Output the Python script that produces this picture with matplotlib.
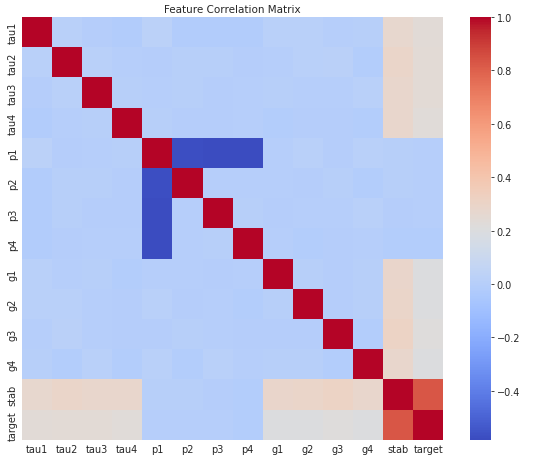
import numpy as np
import matplotlib
matplotlib.use("Agg")
import matplotlib.pyplot as plt
import seaborn as sns

sns.set_theme(style="white")
plt.rcParams["font.family"] = ["DejaVu Sans"]

features = ["tau1", "tau2", "tau3", "tau4", "p1", "p2", "p3", "p4",
            "g1", "g2", "g3", "g4", "stab", "target"]

# correlation rows
tau1 = [1.000, 0.016, -0.006, -0.017, 0.027, -0.015, -0.016, -0.016, 0.011, 0.015, -0.001, 0.005, 0.276, 0.235]
tau2 = [0.016, 1.000, 0.014, -0.002, -0.005, 0.007, 0.008, -0.006, -0.002, 0.015, 0.017, -0.012, 0.291, 0.243]
tau3 = [-0.006, 0.014, 1.000, 0.007, 0.003, 0.004, -0.006, -0.000, 0.010, -0.001, -0.002, 0.015, 0.281, 0.242]
tau4 = [-0.017, -0.002, 0.007, 1.000, 0.009, -0.004, -0.004, -0.002, -0.013, -0.003, -0.007, -0.013, 0.279, 0.230]
p1 = [0.027, -0.005, 0.003, 0.009, 1.000, -0.573, -0.584, -0.579, 0.000, 0.016, -0.003, 0.011, 0.010, -0.001]
p2 = [-0.015, 0.007, 0.004, -0.004, -0.573, 1.000, 0.003, 0.002, 0.003, -0.004, 0.008, -0.009, 0.006, 0.002]
p3 = [-0.016, 0.008, -0.006, -0.004, -0.584, 0.003, 1.000, 0.006, -0.004, -0.002, 0.000, 0.013, -0.003, 0.001]
p4 = [-0.016, -0.006, -0.000, -0.002, -0.579, 0.002, 0.006, 1.000, 0.001, -0.013, -0.004, 0.001, -0.011, -0.012]
g1 = [0.011, -0.002, 0.010, -0.013, 0.000, 0.003, -0.004, 0.001, 1.000, 0.007, -0.004, 0.010, 0.283, 0.200]
g2 = [0.015, 0.015, -0.001, -0.003, 0.016, -0.004, -0.002, -0.013, 0.007, 1.000, -0.008, 0.007, 0.294, 0.197]
g3 = [-0.001, 0.017, -0.002, -0.007, -0.003, 0.008, 0.000, -0.004, -0.004, -0.008, 1.000, -0.010, 0.308, 0.219]
g4 = [0.005, -0.012, 0.015, -0.013, 0.011, -0.009, 0.013, 0.001, 0.010, 0.007, -0.010, 1.000, 0.279, 0.196]
stab = [0.276, 0.291, 0.281, 0.279, 0.010, 0.006, -0.003, -0.011, 0.283, 0.294, 0.308, 0.279, 1.000, 0.829]
target = [0.235, 0.243, 0.242, 0.230, -0.001, 0.002, 0.001, -0.012, 0.200, 0.197, 0.219, 0.196, 0.829, 1.000]

corr = np.array([tau1, tau2, tau3, tau4, p1, p2, p3, p4,
                 g1, g2, g3, g4, stab, target])

fig = plt.figure(figsize=(5.5, 4.64), dpi=100)
ax = fig.add_axes([0.040, 0.050, 0.766, 0.911])
cax = fig.add_axes([0.855, 0.050, 0.037, 0.911])

sns.heatmap(corr, cmap="coolwarm", xticklabels=features, yticklabels=features,
            ax=ax, cbar_ax=cax, square=False)

ax.set_title("Feature Correlation Matrix", fontsize=7.5, pad=4)
ax.tick_params(axis="both", length=0, labelsize=7, pad=3)
plt.setp(ax.get_yticklabels(), rotation=90, va="center")
plt.setp(ax.get_xticklabels(), rotation=0)

cax.tick_params(labelsize=7, length=2.5, width=0.6, pad=2, right=True)
cax.set_yticks([-0.4, -0.2, 0.0, 0.2, 0.4, 0.6, 0.8, 1.0])

fig.savefig("out.png", dpi=100)
